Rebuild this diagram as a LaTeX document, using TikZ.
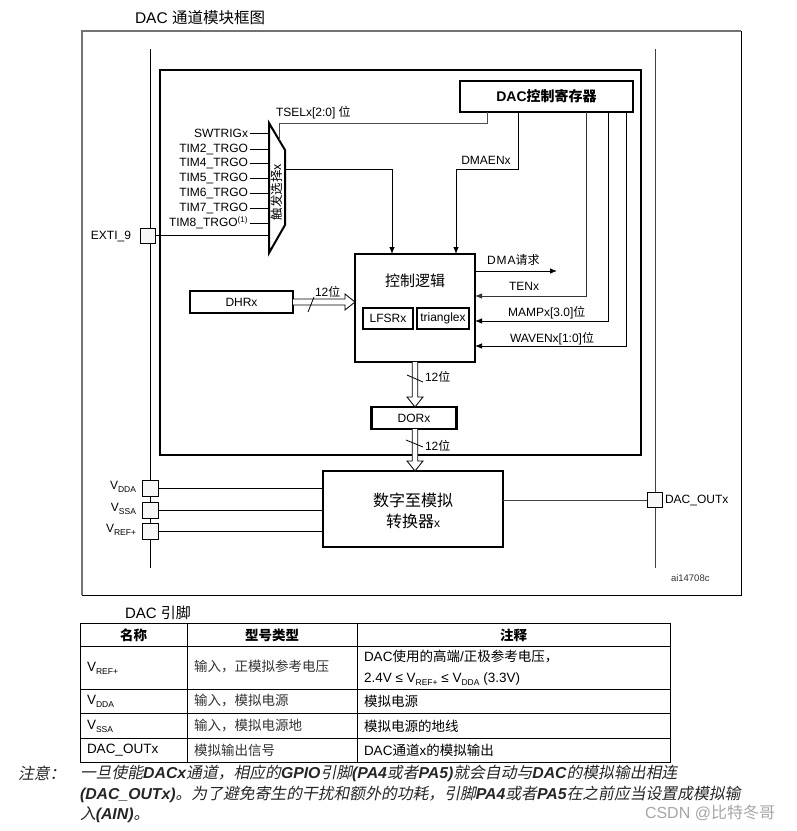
\documentclass[tikz,border=0pt]{standalone}
\usepackage{fontspec}
\setmainfont{Liberation Sans}
\newfontfamily\cjk{Noto Sans CJK SC}
\newfontfamily\cjki[FakeSlant=0.2]{Noto Sans CJK SC}
\usetikzlibrary{arrows.meta,calc}
\newcommand\zh[1]{{\cjk #1}}
\newcommand\zhi[1]{{\cjki #1}}
\newcommand\lit[1]{{\bfseries\itshape #1}}
\newcommand\lsub[1]{\raisebox{-0.45ex}{\fontsize{8.5}{8.5}\selectfont #1}}
\begin{document}
\begin{tikzpicture}[x=1pt,y=-1pt,
  every node/.style={inner sep=0pt, outer sep=0pt},
  lbl/.style={font=\fontsize{12}{12}\selectfont},
  thinl/.style={line width=0.8pt},
  thickbox/.style={draw, line width=2.2pt, fill=white},
  pinbox/.style={draw, line width=0.8pt, fill=black!3, minimum width=15pt, minimum height=15pt},
  arr/.style={thinl, -{Latex[length=7pt,width=5.5pt]}},
  tbl/.style={font=\fontsize{13.5}{13.5}\selectfont, anchor=west},
  note/.style={font=\fontsize{15.8}{15.8}\selectfont, text=black!85, anchor=west}]
\useasboundingbox (0,0) rectangle (797,831);
\fill[white] (0,0) rectangle (797,831);

% title
\node[anchor=west, font=\fontsize{15.5}{15.5}\selectfont] (title) at (135,18) {DAC \zh{通道模块框图}};

% outer frame
\draw[black!55, line width=2pt] (82,595) -- (82,31) -- (741,31);
\draw[line width=1pt] (741,31) -- (741,595) -- (82,595);

% rails
\coordinate (railLt) at (150,49); \coordinate (railLb) at (150,568);
\draw[thinl] (railLt) -- (railLb);
\coordinate (railRt) at (655,49); \coordinate (railRb) at (655,568);
\draw[thinl, black!75] (railRt) -- (railRb);

% inner frame
\draw[line width=2.6pt] (160,70) rectangle (641,455);

% blocks
\node[thickbox, minimum width=173, minimum height=31, font=\fontsize{14}{14}\selectfont] (dacreg) at (546.5,96.5) {\bfseries DAC\zh{控制寄存器}};
\node[thickbox, minimum width=120, minimum height=108] (ctrl) at (415,308) {};
\node[font=\cjk\fontsize{15}{15}\selectfont] (ctrlt) at (415,281) {控制逻辑};
\node[thickbox, line width=1.8pt, minimum width=50, minimum height=21, lbl] (lfsr) at (388,318.5) {LFSRx};
\node[thickbox, line width=1.8pt, minimum width=52, minimum height=21, lbl] (tri) at (443,318.5) {trianglex};
\node[thickbox, line width=2pt, minimum width=103, minimum height=22, lbl] (dhr) at (241.5,302) {DHRx};
\node[thickbox, minimum width=85, minimum height=22, lbl] (dor) at (414,418) {DORx};
\node[thickbox, minimum width=180, minimum height=76] (dac) at (413,509) {};
\node[font=\cjk\fontsize{16}{16}\selectfont] (dact1) at (413,500) {数字至模拟};
\node[font=\fontsize{16}{16}\selectfont] (dact2) at (413,521) {\zh{转换器}{\fontsize{12}{12}\selectfont x}};

% mux
\draw[line width=2pt, fill=white] (269,123) -- (285,150) -- (285,225) -- (269,253) -- cycle;
\coordinate (muxL) at (269,190);
\node[rotate=90, font=\cjk\fontsize{12.5}{12.5}\selectfont] (muxt) at (277,192) {触发选择x};

\foreach \n/\t/\y in {sw/SWTRIGx/133, t2/TIM2\_TRGO/149, t4/TIM4\_TRGO/163, t5/TIM5\_TRGO/178, t6/TIM6\_TRGO/193, t7/TIM7\_TRGO/208, t8/{TIM8\_TRGO\textsuperscript{(1)}}/223}{
  \node[lbl, anchor=east] (in\n) at (248,\y) {\t};
  \draw[thinl] (in\n.east) ++(1.5,0) -- (in\n.east -| muxL);
}

% EXTI
\node[pinbox] (exti) at (148,235.5) {};
\node[lbl, anchor=east] (extil) at (131,236) {EXTI\_9};
\draw[thinl] (exti.east) -- (exti.east -| muxL);

% TSEL
\coordinate (tselx) at (487,123);
\coordinate (tselm) at (279,123);
\coordinate (tselmux) at (279,140);
\draw[thinl, black!70] (tselx |- dacreg.south) -- (tselx) -- (tselm) -- (tselmux);
\node[lbl, anchor=west] (tsell) at (276,113) {TSELx[2:0] \zh{位}};

% mux output
\coordinate (muxo) at (285,169); \coordinate (muxc) at (392,169);
\draw[arr] (muxo) -- (muxc) -- (muxc |- ctrl.north);

% DMAEN
\coordinate (dmaA) at (518,169); \coordinate (dmaB) at (456,169);
\draw[arr] (dmaA |- dacreg.south) -- (dmaA) -- (dmaB) -- (dmaB |- ctrl.north);
\node[lbl] (dmal) at (486,160) {DMAENx};

% DMA request
\coordinate (dmarq) at (557,271);
\draw[arr] (ctrl.east |- dmarq) -- (dmarq);
\node[lbl, anchor=west] (dmarql) at (487,260) {D\kern1pt M\kern1pt A\zh{请求}};

% TEN / MAMP / WAVEN
\coordinate (tenA) at (586,296);
\draw[arr, black!80] (tenA |- dacreg.south) -- (tenA) -- (ctrl.east |- tenA);
\node[lbl, anchor=west] (tenl) at (509,286) {TENx};
\coordinate (mampA) at (608,321);
\draw[arr] (mampA |- dacreg.south) -- (mampA) -- (ctrl.east |- mampA);
\node[lbl, anchor=west] (mampl) at (508,313) {MAMPx[3.0]\zh{位}};
\coordinate (waveA) at (626,346);
\draw[arr] (waveA |- dacreg.south) -- (waveA) -- (ctrl.east |- waveA);
\node[lbl, anchor=west] (wavel) at (510,339) {WAVENx[1:0]\zh{位}};

% hollow bus arrows
\coordinate (dhrT) at (ctrl.west |- dhr.east);
\draw[thinl, fill=white] ($(dhr.east)+(0,-3)$) -- ($(dhrT)+(-10,-3)$) -- ($(dhrT)+(-10,-8)$) -- (dhrT) -- ($(dhrT)+(-10,8)$) -- ($(dhrT)+(-10,3)$) -- ($(dhr.east)+(0,3)$);
\draw[thinl] (308,312) -- (314,297);
\node[lbl, anchor=west] (b1) at (315,292) {12\zh{位}};

\coordinate (v1s) at (ctrl.south);
\coordinate (v1e) at (ctrl.south |- dor.north);
\draw[thinl, fill=white] ($(v1s)+(-2.8,0)$) -- ($(v1e)+(-2.8,-10)$) -- ($(v1e)+(-8,-10)$) -- (v1e) -- ($(v1e)+(8,-10)$) -- ($(v1e)+(2.8,-10)$) -- ($(v1s)+(2.8,0)$);
\draw[thinl] (407,375) -- (423,382);
\node[lbl, anchor=west] (b2) at (425,377) {12\zh{位}};

\coordinate (v2s) at (ctrl.south |- dor.south);
\coordinate (v2e) at (ctrl.south |- dac.north);
\draw[thinl, fill=white] ($(v2s)+(-2.8,0)$) -- ($(v2e)+(-2.8,-10)$) -- ($(v2e)+(-8,-10)$) -- (v2e) -- ($(v2e)+(8,-10)$) -- ($(v2e)+(2.8,-10)$) -- ($(v2s)+(2.8,0)$);
\draw[thinl] (406,440) -- (423,447);
\node[lbl, anchor=west] (b3) at (425,446) {12\zh{位}};

% power pins
\node[pinbox, minimum width=16, minimum height=16] (vdda) at (150,488) {};
\node[pinbox, minimum width=16, minimum height=16] (vssa) at (150,510) {};
\node[pinbox, minimum width=16, minimum height=16] (vref) at (150,531) {};
\node[lbl, anchor=east] (vddal) at (136,487) {V\lsub{DDA}};
\node[lbl, anchor=east] (vssal) at (136,509) {V\lsub{SSA}};
\node[lbl, anchor=east] (vrefl) at (136,530) {V\lsub{REF+}};
\draw[thinl] (vdda.east) -- (vdda.east -| dac.west);
\draw[thinl] (vssa.east) -- (vssa.east -| dac.west);
\draw[thinl] (vref.east) -- (vref.east -| dac.west);

% output pin
\node[pinbox] (out) at (654.5,500) {};
\draw[thinl, black!75] (dac.east |- out) -- (out.west);
\node[lbl, anchor=west] (outl) at (665,500) {DAC\_OUTx};
\node[font=\fontsize{9.5}{9.5}\selectfont, text=black!80, anchor=west] (ai) at (671,578) {ai14708c};

% table
\node[anchor=west, font=\fontsize{15}{15}\selectfont] (pint) at (125,613) {DAC \zh{引脚}};
\draw[line width=0.9pt] (80,623) rectangle (670,762);
\draw[line width=0.9pt] (80,646) -- (670,646) (80,689) -- (670,689) (80,713) -- (670,713) (80,738) -- (670,738);
\draw[line width=0.9pt] (187,623) -- (187,762) (357,623) -- (357,762);
\node[font=\cjk\bfseries\fontsize{13.5}{13.5}\selectfont] (h1) at (133.5,635) {名称};
\node[font=\cjk\bfseries\fontsize{13.5}{13.5}\selectfont] (h2) at (272,635) {型号类型};
\node[font=\cjk\bfseries\fontsize{13.5}{13.5}\selectfont] (h3) at (513.5,635) {注释};

\node[tbl] (r1a) at (87,668) {V\lsub{REF+}};
\node[tbl, text=black!80] (r1b) at (194,667) {\zh{输入，正模拟参考电压}};
\node[tbl] (r1c) at (364,657) {DAC\zh{使用的高端}/\zh{正极参考电压，}};
\node[tbl] (r1d) at (364,679) {2.4V ≤ V\lsub{REF+} ≤ V\lsub{DDA} (3.3V)};
\node[tbl] (r2a) at (87,701) {V\lsub{DDA}};
\node[tbl, text=black!80] (r2b) at (194,701) {\zh{输入，模拟电源}};
\node[tbl] (r2c) at (364,701) {\zh{模拟电源}};
\node[tbl] (r3a) at (87,726) {V\lsub{SSA}};
\node[tbl, text=black!80] (r3b) at (194,726) {\zh{输入，模拟电源地}};
\node[tbl] (r3c) at (364,726) {\zh{模拟电源的地线}};
\node[tbl] (r4a) at (87,750) {DAC\_OUTx};
\node[tbl, text=black!80] (r4b) at (194,750) {\zh{模拟输出信号}};
\node[tbl] (r4c) at (364,750) {DAC\zh{通道}x\zh{的模拟输出}};

% note
\node[note] (n0) at (18,773) {\zhi{注意：}};
\node[note] (n1) at (80,773) {\zhi{一旦使能}\lit{DACx}\zhi{通道，相应的}\lit{GPIO}\zhi{引脚}\lit{(PA4}\zhi{或者}\lit{PA5)}\zhi{就会自动与}\lit{DAC}\zhi{的模拟输出相连}};
\node[note] (n2) at (80,794) {\lit{(DAC\_OUTx)}\zhi{。为了避免寄生的干扰和额外的功耗，引脚}\lit{PA4}\zhi{或者}\lit{PA5}\zhi{在之前应当设置成模拟输}};
\node[note] (n3) at (80,815) {\zhi{入}\lit{(AIN)}\zhi{。}};

% watermark
\node[anchor=west, font=\fontsize{16}{16}\selectfont, text=black!35] (wm) at (645,813) {CSDN @\zh{比特冬哥}};
\end{tikzpicture}
\end{document}
